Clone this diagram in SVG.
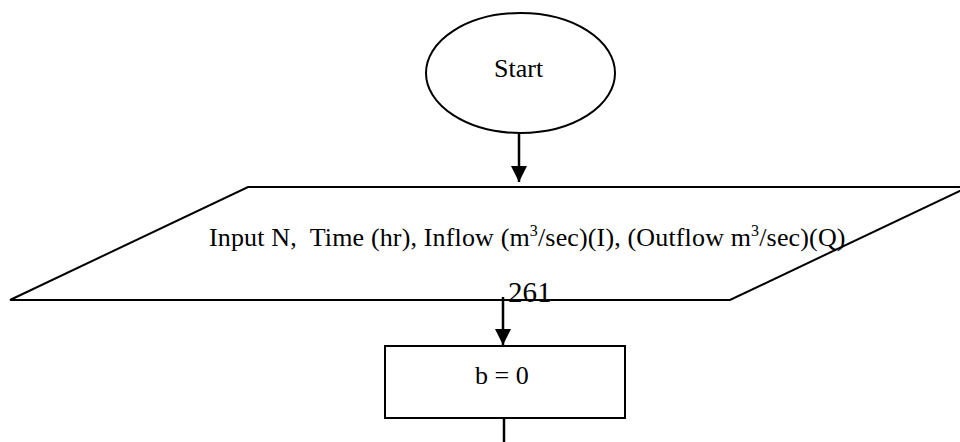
<svg xmlns="http://www.w3.org/2000/svg" width="960" height="442" viewBox="0 0 960 442">
<style>
.s{fill:none;stroke:#000;stroke-width:2}
.t{font-family:"Liberation Serif","Times New Roman",serif;fill:#000;font-size:26px}
.c{stroke:#000;stroke-width:2.5;fill:none}
</style>
<defs>
<marker id="ah" markerWidth="16" markerHeight="16" viewBox="0 0 16 16" refX="16" refY="8" orient="auto" markerUnits="userSpaceOnUse">
<path d="M0,0 L16,8 L0,16 Z" fill="#000"/>
</marker>
</defs>
<rect width="960" height="442" fill="#fff"/>
<g id="start">
<ellipse class="s" cx="520.5" cy="73" rx="94.5" ry="60"/>
<text class="t" x="494" y="77">Start</text>
</g>
<g id="input">
<polygon class="s" points="248,187 968,187 730,300 10,300"/>
<text class="t" x="209" y="246" xml:space="preserve" style="letter-spacing:0.15px">Input N,  Time (hr), Inflow (m<tspan font-size="16" dy="-10">3</tspan><tspan dy="10">/sec)(I), (Outflow m</tspan><tspan font-size="16" dy="-10">3</tspan><tspan dy="10">/sec)(Q)</tspan></text>
</g>
<g id="page">
<text class="t" x="508" y="302" style="font-size:29px">261</text>
</g>
<g id="init">
<rect class="s" x="385" y="346" width="240" height="72"/>
<text class="t" x="475" y="384">b = 0</text>
</g>
<g id="connectors">
<line class="c" x1="519" y1="133" x2="519" y2="182" marker-end="url(#ah)"/>
<line class="c" x1="503" y1="297" x2="503" y2="345" marker-end="url(#ah)"/>
<line class="c" x1="504" y1="418" x2="504" y2="442"/>
</g>
</svg>
